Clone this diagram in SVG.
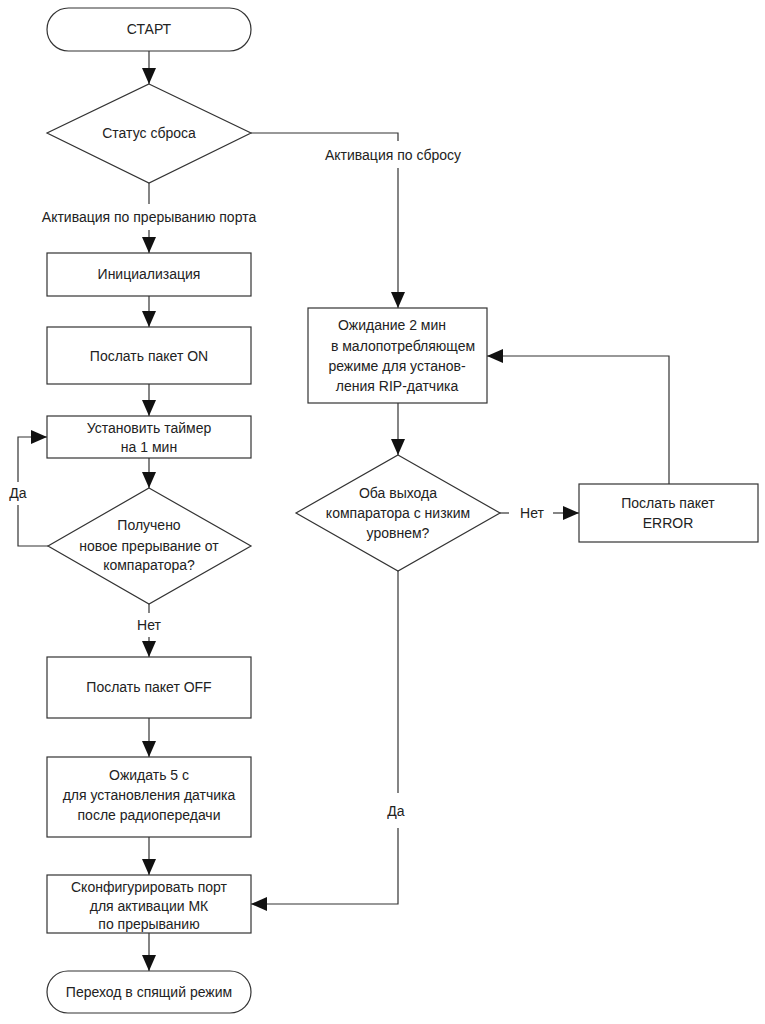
<svg xmlns="http://www.w3.org/2000/svg" width="765" height="1024" viewBox="0 0 765 1024">
<style>
.n{fill:#fff;stroke:#333;stroke-width:1.2}
.c{fill:none;stroke:#333;stroke-width:1.2}
text{font-family:"Liberation Sans",Arial,sans-serif;font-size:14px;fill:#222;text-anchor:middle;dominant-baseline:central}
</style>
<defs>
<marker id="ah" markerUnits="userSpaceOnUse" markerWidth="16" markerHeight="14" refX="16" refY="7" orient="auto">
<path d="M0,0 L16,7 L0,14 z" fill="#111"/>
</marker>
</defs>
<rect width="765" height="1024" fill="#fff"/>
<g id="connectors">
<path class="c" d="M149,51 V84" marker-end="url(#ah)"/>
<path class="c" d="M251,133 H398 V141"/>
<path class="c" d="M398,168 V308" marker-end="url(#ah)"/>
<path class="c" d="M149,183 V204"/>
<path class="c" d="M149,230 V253" marker-end="url(#ah)"/>
<path class="c" d="M149,296 V327" marker-end="url(#ah)"/>
<path class="c" d="M149,384 V416" marker-end="url(#ah)"/>
<path class="c" d="M149,458 V488" marker-end="url(#ah)"/>
<path class="c" d="M48,546 H18 V505"/>
<path class="c" d="M18,482 V437 H47" marker-end="url(#ah)"/>
<path class="c" d="M149,604 V613"/>
<path class="c" d="M149,637 V657" marker-end="url(#ah)"/>
<path class="c" d="M149,718 V757" marker-end="url(#ah)"/>
<path class="c" d="M149,837 V875" marker-end="url(#ah)"/>
<path class="c" d="M149,933 V971" marker-end="url(#ah)"/>
<path class="c" d="M398,403 V455" marker-end="url(#ah)"/>
<path class="c" d="M500,513 H509"/>
<path class="c" d="M553,513 H579" marker-end="url(#ah)"/>
<path class="c" d="M669,484 V356 H487" marker-end="url(#ah)"/>
<path class="c" d="M398,571 V793"/>
<path class="c" d="M398,828 V904 H251" marker-end="url(#ah)"/>
<text x="393" y="155">Активация по сбросу</text>
<text x="149" y="217">Активация по прерыванию порта</text>
<text x="18" y="493">Да</text>
<text x="149" y="625">Нет</text>
<text x="532" y="513">Нет</text>
<text x="396" y="811">Да</text>
</g>
<g id="start">
<rect class="n" x="47" y="8" width="204" height="43" rx="21.5"/>
<text x="149" y="29">СТАРТ</text>
</g>
<g id="reset-status">
<polygon class="n" points="149,84 251,133 149,183 47,133"/>
<text x="149" y="133">Статус сброса</text>
</g>
<g id="init">
<rect class="n" x="47" y="253" width="204" height="43"/>
<text x="149" y="274">Инициализация</text>
</g>
<g id="send-on">
<rect class="n" x="47" y="327" width="204" height="57"/>
<text x="149" y="356">Послать пакет ON</text>
</g>
<g id="set-timer">
<rect class="n" x="47" y="416" width="204" height="42"/>
<text x="149" y="428">Установить таймер</text>
<text x="149" y="447">на 1 мин</text>
</g>
<g id="new-interrupt">
<polygon class="n" points="149,488 251,546 149,604 48,546"/>
<text x="149" y="525">Получено</text>
<text x="149" y="546">новое прерывание от</text>
<text x="149" y="565">компаратора?</text>
</g>
<g id="send-off">
<rect class="n" x="47" y="657" width="204" height="61"/>
<text x="149" y="687">Послать пакет OFF</text>
</g>
<g id="wait-5s">
<rect class="n" x="47" y="757" width="204" height="80"/>
<text x="149" y="775">Ожидать 5 с</text>
<text x="149" y="795">для установления датчика</text>
<text x="149" y="815">после радиопередачи</text>
</g>
<g id="config-port">
<rect class="n" x="47" y="875" width="204" height="58"/>
<text x="149" y="887">Сконфигурировать порт</text>
<text x="149" y="906">для активации МК</text>
<text x="149" y="924">по прерыванию</text>
</g>
<g id="sleep">
<rect class="n" x="47" y="971" width="204" height="42" rx="21"/>
<text x="149" y="992">Переход в спящий режим</text>
</g>
<g id="wait-2min">
<rect class="n" x="308" y="308" width="179" height="95"/>
<text x="392" y="325">Ожидание 2 мин</text>
<text x="403" y="346">в малопотребляющем</text>
<text x="397" y="366">режиме для установ-</text>
<text x="397" y="386">ления RIP-датчика</text>
</g>
<g id="both-low">
<polygon class="n" points="398,455 500,513 398,571 296,513"/>
<text x="398" y="493">Оба выхода</text>
<text x="398" y="513">компаратора с низким</text>
<text x="398" y="533">уровнем?</text>
</g>
<g id="send-error">
<rect class="n" x="579" y="484" width="179" height="58"/>
<text x="668" y="503">Послать пакет</text>
<text x="668" y="523">ERROR</text>
</g>
</svg>
